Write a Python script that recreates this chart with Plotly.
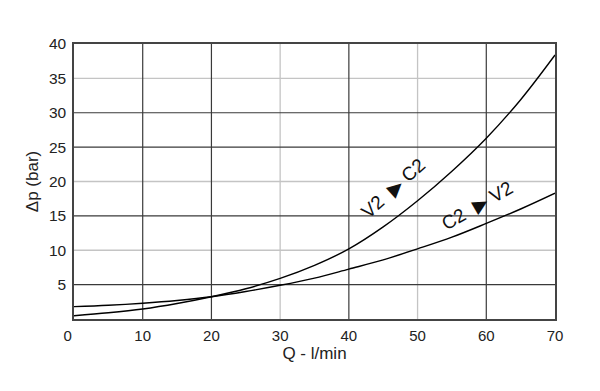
import plotly.graph_objects as go

# Data
q = [0, 5, 10, 15, 20, 25, 30, 35, 40, 45, 50, 55, 60, 65, 70]
dp_v2_c2 = [0.48, 0.9, 1.45, 2.25, 3.24, 4.4, 5.9, 7.8, 10.2, 13.4, 17.2, 21.5, 26.3, 31.9, 38.4]
dp_c2_v2 = [1.8, 2.0, 2.3, 2.7, 3.24, 4.0, 4.9, 5.95, 7.26, 8.6, 10.2, 11.9, 13.9, 16.0, 18.3]

x_ticks = [0, 10, 20, 30, 40, 50, 60, 70]
x_tick_labels = ["0\u00a0\u00a0\u00a0", "10", "20", "30", "40", "50", "60", "70"]
y_ticks = [5, 10, 15, 20, 25, 30, 35, 40]
y_tick_labels = ["5", "10", "15", "20", "25", "30", "35", "40"]
x_grid_dark = [10, 20, 40, 60]
x_grid_light = [30, 50]
y_grid_dark = [5, 15, 25, 30]
y_grid_light = [10, 20, 35]

FONT = "Liberation Sans, Arial, sans-serif"
DARK = "#3a3a3a"
LIGHT = "#c4c4c4"

fig = go.Figure()

shapes = []
for v in x_grid_light:
    shapes.append(dict(type="line", xref="x", yref="paper", x0=v, x1=v, y0=0, y1=1,
                       line=dict(color=LIGHT, width=1.3), layer="below"))
for v in y_grid_light:
    shapes.append(dict(type="line", xref="paper", yref="y", x0=0, x1=1, y0=v, y1=v,
                       line=dict(color=LIGHT, width=1.3), layer="below"))
for v in x_grid_dark:
    shapes.append(dict(type="line", xref="x", yref="paper", x0=v, x1=v, y0=0, y1=1,
                       line=dict(color=DARK, width=1.2), layer="below"))
for v in y_grid_dark:
    shapes.append(dict(type="line", xref="paper", yref="y", x0=0, x1=1, y0=v, y1=v,
                       line=dict(color=DARK, width=1.2), layer="below"))

fig.add_trace(go.Scatter(x=q, y=dp_v2_c2, mode="lines", line=dict(color="black", width=1.4, shape="spline"),
                         name="V2 ▶ C2", showlegend=False, hoverinfo="skip"))
fig.add_trace(go.Scatter(x=q, y=dp_c2_v2, mode="lines", line=dict(color="black", width=1.4, shape="spline"),
                         name="C2 ▶ V2", showlegend=False, hoverinfo="skip"))

annotations = [
    dict(x=46.4, y=19.0, xref="x", yref="y", text="V2\u00a0\u00a0▶\u00a0C2", showarrow=False, textangle=-42,
         font=dict(family=FONT, size=19, color="#111")),
    dict(x=58.7, y=16.5, xref="x", yref="y", text="C2\u00a0\u00a0▶\u00a0V2", showarrow=False, textangle=-30,
         font=dict(family=FONT, size=19, color="#111")),
]

# The page body adds an 8 px margin, so margins are offset to place the plot area as in the reference
fig.update_layout(
    width=600, height=391,
    margin=dict(l=66, r=53, t=36, b=80),
    paper_bgcolor="white", plot_bgcolor="white",
    shapes=shapes, annotations=annotations,
    font=dict(family=FONT, size=15, color="#222"),
    xaxis=dict(range=[0, 70], tickvals=x_ticks, ticktext=x_tick_labels, showgrid=False, zeroline=False,
               showline=True, linecolor="#444", linewidth=1.5, mirror=True,
               ticks="outside", ticklen=2, tickcolor="rgba(0,0,0,0)", tickfont=dict(size=15, color="#222"),
               title=dict(text="Q - l/min", font=dict(size=17, color="#222"), standoff=4)),
    yaxis=dict(range=[0, 40], tickvals=y_ticks, ticktext=y_tick_labels,
               showgrid=False, zeroline=False,
               showline=True, linecolor="#444", linewidth=1.5, mirror=True,
               ticks="outside", ticklen=3, tickcolor="rgba(0,0,0,0)", tickfont=dict(size=15.5, color="#222"),
               title=dict(text="Δp (bar)", font=dict(size=17, color="#222"), standoff=6)),
)

fig.write_html("out.html")
